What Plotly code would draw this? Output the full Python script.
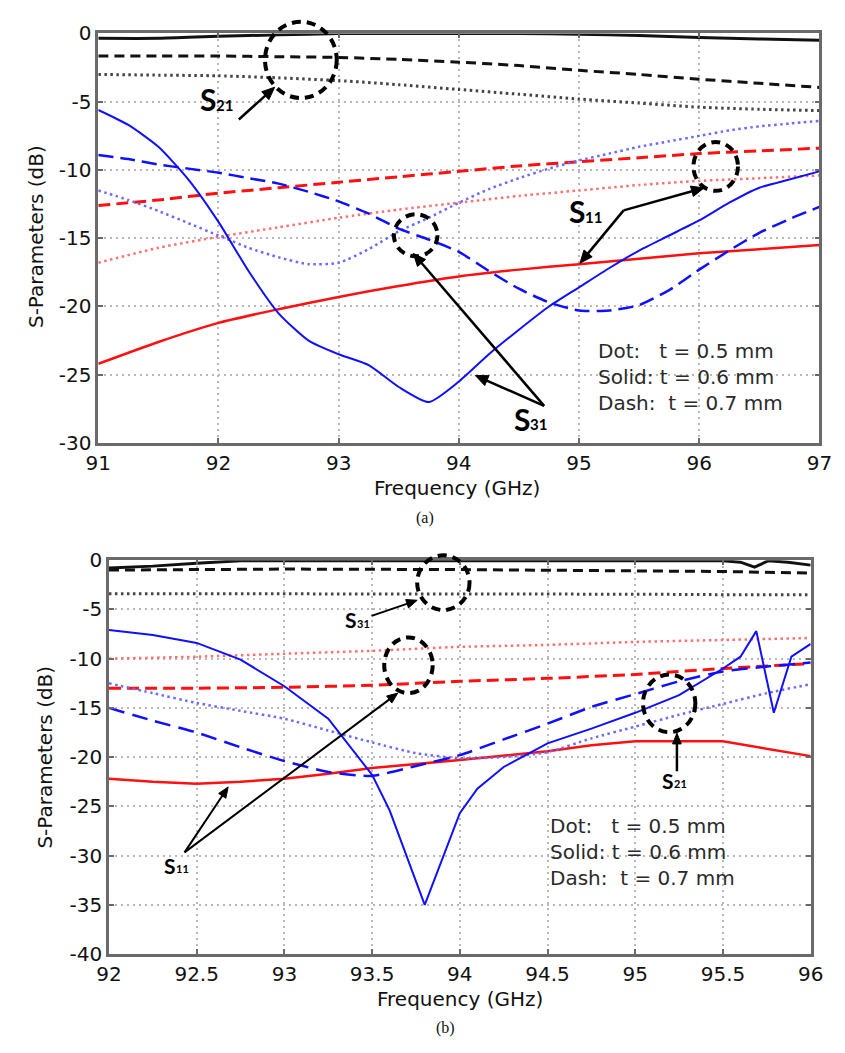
import math
import plotly.graph_objects as go

W, H = 845, 1053

# ---------------- panel (a): 91-97 GHz ----------------
f_a = [91, 91.25, 91.5, 91.75, 92, 92.25, 92.5, 92.75, 93, 93.25, 93.5, 93.75,
       94, 94.25, 94.5, 94.75, 95, 95.25, 95.5, 95.75, 96, 96.25, 96.5, 96.75, 97]
a_s31_06 = [-5.6, -6.7, -8.3, -10.7, -13.8, -17.4, -20.5, -22.5, -23.5, -24.3, -25.9, -27.0,
            -25.5, -23.5, -21.7, -20.0, -18.6, -17.2, -15.9, -14.8, -13.7, -12.4, -11.3, -10.7, -10.1]
a_s31_07 = [-8.9, -9.2, -9.6, -9.9, -10.2, -10.6, -11.0, -11.6, -12.3, -13.2, -14.3, -15.1,
            -16.0, -17.4, -18.7, -19.7, -20.3, -20.3, -19.9, -18.8, -17.3, -15.9, -14.6, -13.6, -12.7]
a_s31_05 = [-11.5, -12.2, -13.0, -13.9, -14.8, -15.7, -16.4, -16.9, -16.8, -15.8, -14.5, -13.5,
            -12.4, -11.4, -10.6, -9.9, -9.3, -8.8, -8.3, -7.9, -7.5, -7.1, -6.8, -6.6, -6.4]

f_a2 = [91, 91.5, 92, 92.5, 93, 93.5, 94, 94.5, 95, 95.5, 96, 96.5, 97]
a_s11_07 = [-12.6, -12.2, -11.7, -11.3, -10.9, -10.5, -10.1, -9.7, -9.4, -9.1, -8.8, -8.6, -8.4]
a_s11_05 = [-16.8, -15.7, -14.9, -14.2, -13.5, -12.9, -12.4, -11.9, -11.5, -11.1, -10.8, -10.6, -10.4]
a_s11_06 = [-24.2, -22.6, -21.2, -20.2, -19.3, -18.5, -17.8, -17.3, -16.9, -16.5, -16.1, -15.8, -15.5]
a_s21_06 = [-0.35, -0.35, -0.2, -0.1, 0.0, 0.0, 0.0, 0.0, -0.05, -0.15, -0.3, -0.4, -0.5]
a_s21_07 = [-1.65, -1.65, -1.65, -1.7, -1.75, -1.9, -2.1, -2.35, -2.7, -3.0, -3.35, -3.65, -3.95]
a_s21_05 = [-3.0, -3.05, -3.1, -3.25, -3.45, -3.75, -4.1, -4.45, -4.8, -5.1, -5.4, -5.55, -5.65]

# ---------------- panel (b): 92-96 GHz ----------------
f_b = [92, 92.25, 92.5, 92.75, 93, 93.25, 93.5, 93.75, 94, 94.25, 94.5, 94.75, 95, 95.25, 95.5, 95.75, 96]
b_s11_07 = [-15.0, -16.3, -17.5, -19.0, -20.4, -21.5, -21.9, -20.9, -19.8, -18.2, -16.6, -14.9,
            -13.6, -12.3, -11.3, -10.8, -10.4]
b_s11_05 = [-12.5, -13.5, -14.5, -15.3, -16.1, -17.3, -18.5, -19.6, -20.1, -20.0, -19.5, -18.1,
            -16.9, -15.7, -14.6, -13.5, -12.6]

f_b06 = [92, 92.25, 92.5, 92.75, 93, 93.25, 93.5, 93.6, 93.8, 94.0, 94.1, 94.25, 94.5, 94.75,
         95.0, 95.25, 95.5, 95.6, 95.69, 95.79, 95.89, 96]
b_s11_06 = [-7.1, -7.6, -8.4, -10.1, -12.8, -16.1, -21.8, -25.4, -35.0, -25.7, -23.2, -21.0, -18.6, -17.1,
            -15.5, -13.7, -11.0, -9.8, -7.2, -15.5, -9.8, -8.5]

f_b2 = [92, 92.25, 92.5, 92.75, 93, 93.25, 93.5, 93.75, 94, 94.5, 94.75, 95, 95.5, 96]
b_s21_06 = [-22.2, -22.5, -22.7, -22.5, -22.2, -21.7, -21.1, -20.7, -20.3, -19.4, -18.8, -18.4, -18.4, -19.9]

f_b3 = [92, 92.5, 93, 93.5, 94, 94.5, 95, 95.5, 96]
b_s21_07 = [-13.0, -13.0, -12.9, -12.7, -12.3, -12.0, -11.6, -11.0, -10.5]
b_s21_05 = [-10.0, -9.8, -9.5, -9.2, -8.8, -8.6, -8.3, -8.1, -7.9]

f_b4 = [92, 92.25, 92.5, 92.75, 93, 94, 95, 95.5, 95.6, 95.68, 95.76, 95.87, 96]
b_s31_06 = [-0.8, -0.6, -0.3, -0.05, -0.05, -0.05, -0.05, -0.05, -0.2, -0.7, -0.05, -0.2, -0.5]
f_b5 = [92, 93, 94, 95, 95.5, 96]
b_s31_07 = [-1.0, -0.9, -0.95, -1.05, -1.15, -1.3]
b_s31_05 = [-3.4, -3.4, -3.45, -3.45, -3.5, -3.5]

# tick labels (plain hyphen minus, as on the instrument plots)
ya_vals = [0, -5, -10, -15, -20, -25, -30]
ya_text = ["0", "-5", "-10", "-15", "-20", "-25", "-30"]
yb_vals = [0, -5, -10, -15, -20, -25, -30, -35, -40]
yb_text = ["0", "-5", "-10", "-15", "-20", "-25", "-30", "-35", "-40"]
xa_vals = [91, 92, 93, 94, 95, 96, 97]
xa_text = ["91", "92", "93", "94", "95", "96", "97"]
xb_vals = [92, 92.5, 93, 93.5, 94, 94.5, 95, 95.5, 96]
xb_text = ["92", "92.5", "93", "93.5", "94", "94.5", "95", "95.5", "96"]

BLUE = "#1010ff"
BLUE_L = "#6a6aff"
RED = "#ff1010"
RED_L = "#ff7070"
BLK = "#111111"
DOT = "2.5px,3.5px"

fig = go.Figure()


def add(x, y, color, width, dash, axis, shape="spline"):
    fig.add_trace(go.Scatter(
        x=x, y=y, mode="lines", xaxis="x" + axis, yaxis="y" + axis,
        line=dict(color=color, width=width, dash=dash, shape=shape, smoothing=0.6),
        showlegend=False, hoverinfo="skip"))


# panel (a)
add(f_a2, a_s21_05, "#444444", 3, DOT, "")
add(f_a2, a_s21_07, BLK, 3, "10px,6px", "")
add(f_a2, a_s21_06, BLK, 3, "solid", "")
add(f_a2, a_s11_05, RED_L, 2.5, DOT, "")
add(f_a2, a_s11_07, RED, 3, "12px,6px", "")
add(f_a2, a_s11_06, RED, 2.5, "solid", "")
add(f_a, a_s31_05, BLUE_L, 2.5, DOT, "")
add(f_a, a_s31_07, BLUE, 2.5, "15px,7px", "")
add(f_a, a_s31_06, BLUE, 2, "solid", "")

# panel (b)
add(f_b5, b_s31_05, "#444444", 3, DOT, "2", "linear")
add(f_b5, b_s31_07, BLK, 3, "10px,6px", "2", "linear")
add(f_b4, b_s31_06, BLK, 3, "solid", "2", "linear")
add(f_b3, b_s21_05, RED_L, 2.5, DOT, "2")
add(f_b3, b_s21_07, RED, 3, "12px,6px", "2")
add(f_b2, b_s21_06, RED, 2.5, "solid", "2", "linear")
add(f_b, b_s11_05, BLUE_L, 2.5, DOT, "2")
add(f_b, b_s11_07, BLUE, 2.5, "16px,8px", "2")
add(f_b06, b_s11_06, BLUE, 2, "solid", "2", "linear")


def X(px):
    return px / W


def Y(py):
    return 1 - py / H


FONT = "DejaVu Sans, Verdana, sans-serif"
axis_common = dict(
    showline=True, linecolor="#6a6a6a", linewidth=2.5, mirror="ticks",
    ticks="inside", ticklen=5, tickwidth=2, tickcolor="#6a6a6a",
    showgrid=True, gridcolor="#b8b8b8", gridwidth=1.5, griddash="2px,4px",
    zeroline=False, tickfont=dict(family=FONT, size=20, color="#111"),
    tickmode="array",
)

fig.update_layout(
    width=W, height=H, margin=dict(l=0, r=0, t=0, b=0),
    paper_bgcolor="white", plot_bgcolor="white",
    xaxis=dict(domain=[X(88), X(832)], range=[91, 97], tickvals=xa_vals, ticktext=xa_text,
               anchor="y", **axis_common),
    yaxis=dict(domain=[Y(441), Y(22)], range=[-30, 0], tickvals=ya_vals, ticktext=ya_text,
               anchor="x", **axis_common),
    xaxis2=dict(domain=[X(99), X(823)], range=[92, 96], tickvals=xb_vals, ticktext=xb_text,
                anchor="y2", **axis_common),
    yaxis2=dict(domain=[Y(964), Y(561)], range=[-40, 0], tickvals=yb_vals, ticktext=yb_text,
                anchor="x2", **axis_common),
)

ann = []
shapes = []
TF = dict(family=FONT, size=20, color="#111")


def text(px, py, s, font, xanchor="center", angle=0, align="center", pad=1):
    ann.append(dict(x=X(px), y=Y(py), xref="paper", yref="paper", text=s, showarrow=False,
                    font=font, xanchor=xanchor, yanchor="middle", textangle=angle, align=align,
                    borderpad=pad))


def arrow(tail, tip, head=13, half=5.5, width=2.5):
    """Black callout arrow: a line shape ending in a filled triangular head."""
    dx, dy = tip[0] - tail[0], tip[1] - tail[1]
    n = math.hypot(dx, dy)
    ux, uy = dx / n, dy / n
    bx, by = tip[0] - ux * head, tip[1] - uy * head
    shapes.append(dict(type="line", xref="paper", yref="paper",
                       x0=X(tail[0]), y0=Y(tail[1]), x1=X(bx + ux * 2), y1=Y(by + uy * 2),
                       line=dict(color="black", width=width)))
    p1 = (bx - uy * half, by + ux * half)
    p2 = (bx + uy * half, by - ux * half)
    path = "M %.5f,%.5f L %.5f,%.5f L %.5f,%.5f Z" % (
        X(tip[0]), Y(tip[1]), X(p1[0]), Y(p1[1]), X(p2[0]), Y(p2[1]))
    shapes.append(dict(type="path", xref="paper", yref="paper", path=path,
                       fillcolor="black", line=dict(color="black", width=1)))


def ring(x0, y0, x1, y1):
    shapes.append(dict(type="circle", xref="paper", yref="paper",
                       x0=X(x0), x1=X(x1), y0=Y(y1), y1=Y(y0),
                       line=dict(color="black", width=4, dash="9px,6px")))


SF = "Lato, Open Sans"


def sname(split_x, s_y, d_y, digits, big, small):
    """Callout name: a bold 'S' with its port-number subscript to the right."""
    text(split_x, s_y, "<b>S</b>", dict(family=SF, size=big, color="black"),
         xanchor="right", pad=0)
    text(split_x - 2, d_y, "<b>%s</b>" % digits, dict(family=SF, size=small, color="black"),
         xanchor="left", pad=0)


# axis titles and captions
text(458, 487, "Frequency (GHz)", TF)
text(23, 230, "S-Parameters (dB)", TF, angle=-90)
text(425, 518, "(a)", dict(family="Liberation Serif", size=16, color="#111"))
text(461, 1010, "Frequency (GHz)", TF)
text(33, 762, "S-Parameters (dB)", TF, angle=-90)
text(446, 1040, "(b)", dict(family="Liberation Serif", size=16, color="#111"))

# thickness legends, one line per annotation
leg_lines = ["Dot:&nbsp;&nbsp;&nbsp;t = 0.5 mm", "Solid: t = 0.6 mm", "Dash:&nbsp; t = 0.7 mm"]
LF = dict(family=FONT, size=20, color="#2a2a2a")
for i, line in enumerate(leg_lines):
    text(601, 347 + 26.5 * i, line, LF, xanchor="left", align="left")
    text(552, 833 + 26.5 * i, line, LF, xanchor="left", align="left")

# panel (a) callouts
ring(260, 10, 334, 88)
ring(393, 207, 438, 250)
ring(702, 133, 748, 183)
sname(210, 89, 95, "21", 30, 15)
arrow((233, 110), (270, 77))
sname(591, 204, 210, "11", 30, 15)
arrow((630, 203), (713, 180))
arrow((630, 203), (585, 257))
sname(534, 417, 422, "31", 30, 15)
arrow((548, 403), (413, 247))
arrow((548, 403), (477, 372))

# panel (b) callouts
ring(417, 556, 471, 612)
ring(383, 640, 433, 697)
ring(650, 678, 704, 737)
sname(356, 622, 626, "31", 21, 11)
arrow((370, 618), (417, 602), head=11, half=4.5, width=2)
sname(169, 873, 876, "11", 21, 11)
arrow((177, 860), (397, 697), head=11, half=4.5, width=2)
arrow((177, 860), (222, 793), head=11, half=4.5, width=2)
sname(683, 786, 789, "21", 21, 11)
arrow((685, 777), (685, 738), head=11, half=4.5, width=2.5)

fig.update_layout(annotations=ann, shapes=shapes)
fig.write_html("out.html")
